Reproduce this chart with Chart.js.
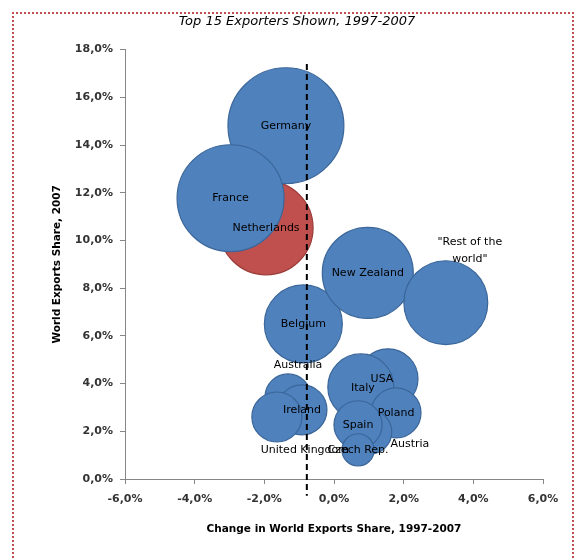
<!DOCTYPE html>
<html>
<head>
<meta charset="utf-8">
<script src="https://cdn.jsdelivr.net/npm/chart.js@4.4.0/dist/chart.umd.min.js"></script>
<style>
  html, body { margin: 0; padding: 0; background: #fff; }
  #frame { position: absolute; left: 12px; top: 12px; width: 558px; height: 570px; border: 2px dotted #c0504d; }
  #chart { position: absolute; left: 0; top: 0; }
</style>
</head>
<body>
<div id="frame"></div>
<canvas id="chart" width="574" height="559"></canvas>
<script>
// ===================================
// DATA
// ===================================

// drawing order matters: later entries sit on top
const countries = ['Netherlands', 'Germany', 'France', 'Belgium', 'New Zealand', '"Rest of the world"',
    'Australia', 'Ireland', 'United Kingdom', 'USA', 'Italy', 'Poland', 'Austria', 'Spain', 'Czech Rep.'];
const shareChange = [-1.95, -1.38, -2.97, -0.88, 0.97, 3.21,
    -1.32, -0.92, -1.64, 1.55, 0.77, 1.78, 1.03, 0.69, 0.69];
const share2007 = [10.53, 14.81, 11.77, 6.50, 8.64, 7.39,
    3.44, 2.90, 2.60, 4.20, 3.86, 2.77, 1.97, 2.27, 1.22];
const bubbleSize = [22.1, 33.6, 28.6, 15.2, 20.7, 17.6,
    5.3, 6.25, 6.25, 9.0, 10.9, 6.25, 4.8, 5.8, 2.6];

const highlighted = 'Netherlands';

// dashed reference line
const refLineX = -0.78;
const refLineY = [17.4, -0.7];

const xTicks = [-6, -4, -2, 0, 2, 4, 6];
const yTicks = [0, 2, 4, 6, 8, 10, 12, 14, 16, 18];

// ===================================
// HELPERS
// ===================================

function pct(v) {
    return v.toFixed(1).replace('.', ',') + '%';
}

function bubblePoints(filterFn) {
    const pts = [];
    const names = [];
    countries.forEach((c, i) => {
        if (!filterFn(c)) return;
        pts.push({ x: shareChange[i], y: share2007[i], r: Math.sqrt(bubbleSize[i]) * 10 });
        names.push(c);
    });
    return { pts, names };
}

const blue = bubblePoints(c => c !== highlighted);
const red = bubblePoints(c => c === highlighted);

// labels drawn at bubble centres, a few nudged like in the original
const bubbleLabels = {
    id: 'bubbleLabels',
    afterDatasetsDraw(chart, args, opts) {
        const ctx = chart.ctx;
        ctx.save();
        ctx.font = opts.font;
        ctx.fillStyle = opts.color;
        ctx.textAlign = 'center';
        ctx.textBaseline = 'middle';
        chart.data.datasets.forEach((ds, i) => {
            if (!ds.names) return;
            chart.getDatasetMeta(i).data.forEach((el, j) => {
                const name = ds.names[j];
                const off = opts.offsets[name] || [0, 0];
                const lines = opts.wrap[name] || [name];
                lines.forEach((line, k) => {
                    const y = el.y + off[1] + (k - (lines.length - 1) / 2) * opts.lineHeight;
                    ctx.fillText(line, el.x + off[0], y);
                });
            });
        });
        ctx.restore();
    }
};

const tickFont = { family: 'DejaVu Sans', size: 11, weight: 'bold' };
const axisTitleFont = { family: 'DejaVu Sans', size: 10.5, weight: 'bold' };

new Chart(document.getElementById('chart').getContext('2d'), {
    type: 'bubble',
    data: {
        datasets: [
            {
                type: 'line',
                data: [{ x: refLineX, y: refLineY[0] }, { x: refLineX, y: refLineY[1] }],
                borderColor: '#000000',
                borderWidth: 2,
                borderDash: [6, 4],
                pointRadius: 0,
                fill: false,
                clip: false
            },
            {
                data: blue.pts,
                names: blue.names,
                backgroundColor: '#4f81bd',
                borderColor: '#3a6699',
                borderWidth: 1.2
            },
            {
                data: red.pts,
                names: red.names,
                backgroundColor: '#c0504d',
                borderColor: '#9a3b38',
                borderWidth: 1.2
            }
        ]
    },
    options: {
        responsive: false,
        animation: false,
        events: [],
        layout: { autoPadding: false, padding: { top: 0, right: 31, bottom: 0, left: 51 } },
        plugins: {
            legend: { display: false },
            tooltip: { enabled: false },
            title: {
                display: true,
                text: 'Top 15 Exporters Shown, 1997-2007',
                color: '#000000',
                font: { family: 'DejaVu Sans', size: 13, style: 'italic', weight: 'normal' },
                padding: { top: 14, bottom: 20 }
            },
            bubbleLabels: {
                font: '11px "DejaVu Sans"',
                color: '#000000',
                lineHeight: 17,
                wrap: { '"Rest of the world"': ['"Rest of the', 'world"'] },
                offsets: {
                    'Australia': [10, -32],
                    '"Rest of the world"': [24, -52],
                    'Austria': [40, 12],
                    'United Kingdom': [28, 33],
                    'USA': [-6, 0],
                    'Italy': [2, 1]
                }
            }
        },
        scales: {
            x: {
                type: 'linear',
                min: -6,
                max: 6,
                afterFit: s => { s.height = 80; },
                afterBuildTicks: s => { s.ticks = xTicks.map(v => ({ value: v })); },
                grid: { drawOnChartArea: false, drawTicks: true, tickLength: 5, color: '#868686' },
                border: { color: '#868686', width: 1 },
                ticks: { color: '#333333', font: tickFont, padding: 9, maxRotation: 0, callback: v => pct(v) },
                title: {
                    display: true,
                    text: 'Change in World Exports Share, 1997-2007',
                    color: '#000000',
                    font: axisTitleFont,
                    padding: { top: 0, bottom: 23 }
                }
            },
            y: {
                type: 'linear',
                min: 0,
                max: 18,
                afterFit: s => { s.width = 74; },
                afterBuildTicks: s => { s.ticks = yTicks.map(v => ({ value: v })); },
                grid: { drawOnChartArea: false, drawTicks: true, tickLength: 5, color: '#868686' },
                border: { color: '#868686', width: 1 },
                ticks: { color: '#333333', font: tickFont, padding: 7, callback: v => pct(v) },
                title: {
                    display: true,
                    text: 'World Exports Share, 2007',
                    color: '#000000',
                    font: axisTitleFont,
                    padding: { top: 0, bottom: 0 }
                }
            }
        }
    },
    plugins: [bubbleLabels]
});
</script>
</body>
</html>
